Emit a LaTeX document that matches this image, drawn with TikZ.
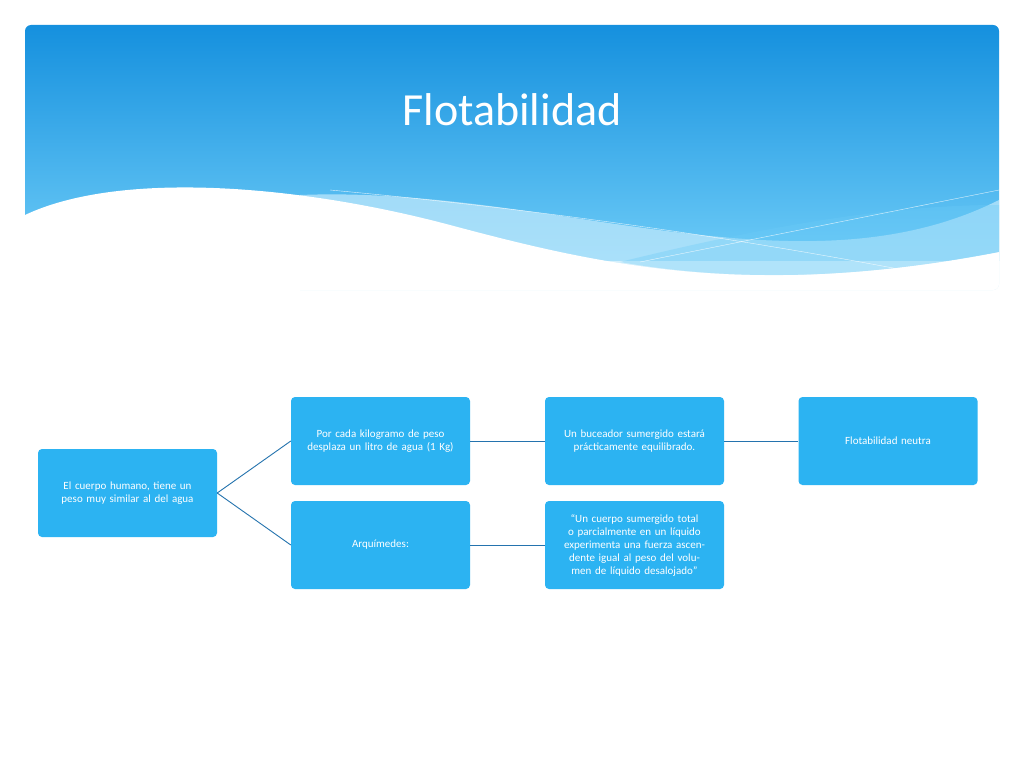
\documentclass[tikz,border=0pt]{standalone}
\usepackage{fontspec}
\setmainfont{Carlito}
\definecolor{boxblue}{HTML}{2CB3F2}
\definecolor{linkblue}{HTML}{2473AE}
\definecolor{topblue}{HTML}{1590DE}
\definecolor{lowblue}{HTML}{6CCBF7}
\tikzset{
  stepbox/.style={rounded corners=4pt,fill=boxblue,text=white,minimum width=179pt,minimum height=88pt,text width=165pt,align=center,font=\fontsize{11}{13}\selectfont},
  link/.style={linkblue,line width=0.9pt}
}
\begin{document}
\begin{tikzpicture}[x=1pt,y=-1pt]
        \useasboundingbox (0,0) rectangle (1024,768);
        \fill[white] (0,0) rectangle (1024,768);
        % header band
        \begin{scope}
          \clip[rounded corners=6pt] (25,25) rectangle (999,290);
          \shade[top color=topblue,bottom color=lowblue] (25,25) rectangle (999,260);
          \fill[white!60!lowblue,opacity=0.7] (300,195) .. controls (550,185) and (800,300) .. (999,200) -- (999,290) -- (300,290) -- cycle;
          \fill[white] (25,215) .. controls (120,170) and (300,185) .. (450,225) .. controls (600,265) and (750,300) .. (999,252) -- (999,290) -- (25,290) -- cycle;
          \fill[lowblue,opacity=0.35] (620,262) .. controls (750,230) and (880,205) .. (999,205) -- (999,252) .. controls (880,275) and (750,285) .. (620,262) -- cycle;
          \draw[white,opacity=0.8] (640,262) -- (999,190);
          \draw[white,opacity=0.8] (330,190) .. controls (600,215) and (800,250) .. (930,275);
        \end{scope}
        \node[text=white,font=\fontsize{46}{50}\selectfont] (title) at (512,110) {Flotabilidad};

        \node[stepbox] (cuerpo) at (127.5,493) {El cuerpo humano, tiene un peso muy similar al del agua};
        \node[stepbox] (litro) at (380.5,441) {Por cada kilogramo de peso desplaza un litro de agua (1 Kg)};
        \node[stepbox] (arqui) at (380.5,545) {Arquímedes:};
        \node[stepbox] (buzo) at (634.5,441) {Un buceador sumergido estará prácticamente equilibrado.};
        \node[stepbox] (ley) at (634.5,545) {“Un cuerpo sumergido total o parcialmente en un líquido experimenta una fuerza ascendente igual al peso del volumen de líquido desalojado”};
        \node[stepbox] (neutra) at (888,441) {Flotabilidad neutra};

        \draw[link] (cuerpo.east) -- (litro.west);
        \draw[link] (cuerpo.east) -- (arqui.west);
        \draw[link] (litro) -- (buzo);
        \draw[link] (arqui) -- (ley);
        \draw[link] (buzo) -- (neutra);
\end{tikzpicture}
\end{document}
